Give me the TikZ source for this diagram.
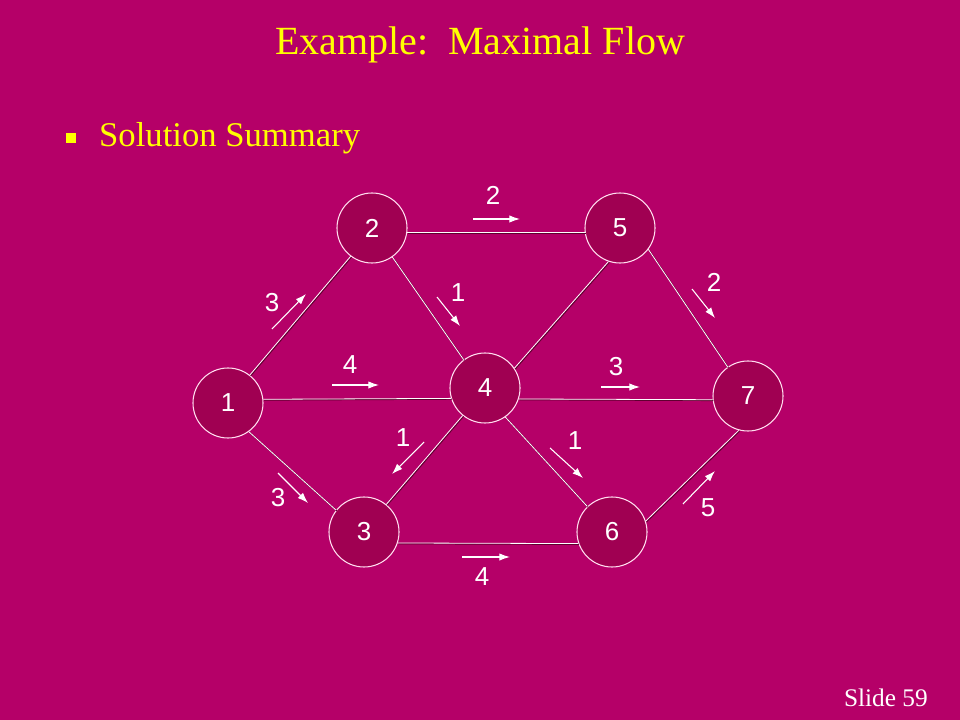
\documentclass[tikz,border=0pt]{standalone}
\usepackage{fontspec}
\setmainfont{Liberation Serif}
\newfontfamily\numfont{Liberation Sans}
\usetikzlibrary{arrows.meta}
\usetikzlibrary{positioning}

\definecolor{slidebg}{RGB}{181,0,104}
\definecolor{nodefill}{RGB}{160,0,82}
\definecolor{slideyellow}{RGB}{255,255,0}
\definecolor{shadowcol}{RGB}{95,0,48}
\definecolor{rimcol}{RGB}{255,220,238}

\begin{document}
\begin{tikzpicture}[x=0.75pt,y=-0.75pt]
	\tikzset{vertex/.style = {shape=circle,draw=rimcol,fill=nodefill,
			line width=0.8pt,minimum size=52.5pt,inner sep=0pt,
			text=white,font=\numfont\fontsize{19.5}{19.5}\selectfont}}
	\tikzset{edge/.style = {draw=white,line width=0.6pt,
			preaction={draw=shadowcol,line width=0.8pt,
				transform canvas={shift={(0.6pt,-0.6pt)}}}}}
	\tikzset{flow/.style = {-{Latex[length=8pt,width=5.5pt]},draw=white,
			line width=0.8pt}}
	\tikzset{flowlab/.style = {text=white,inner sep=0pt,
			font=\numfont\fontsize{19.5}{19.5}\selectfont}}

	% background
	\fill[slidebg] (0,0) rectangle (960,720);
	\useasboundingbox (0,0) rectangle (960,720);

	% title and bullet
	\node[text=slideyellow,inner sep=0pt,font=\fontsize{30}{30}\selectfont]
		(title) at (480,45) {Example:\ \ Maximal Flow};
	\node[fill=slideyellow,minimum size=7.5pt,inner sep=0pt] (bul) at (71,138) {};
	\node[right=17pt of bul,text=slideyellow,inner sep=0pt,
		font=\fontsize{26}{26}\selectfont] (summary) {Solution Summary};
	\node[anchor=base east,text=white,inner sep=0pt,
		font=\fontsize{19}{19}\selectfont] (slideno) at (928,706) {Slide 59};

	% vertices
	\node[vertex] (v1) at (228,403) {1};
	\node[vertex] (v2) at (372,228) {2};
	\node[vertex] (v3) at (364,532) {3};
	\node[vertex] (v4) at (485,388) {4};
	\node[vertex] (v5) at (620,228) {5};
	\node[vertex] (v6) at (612,532) {6};
	\node[vertex] (v7) at (748,396) {7};

	%edges
	\draw[edge] (v1.52) -- (v2.233);
	\draw[edge] (v1.-54) -- (v3.142);
	\draw[edge] (v1.6) -- (v4.197);
	\draw[edge] (v2.-7) -- (v5.187);
	\draw[edge] (v2.-55) -- (v4.127);
	\draw[edge] (v3.51) -- (v4.231);
	\draw[edge] (v3.-18) -- (v6.199);
	\draw[edge] (v4.34) -- (v5.251);
	\draw[edge] (v4.-18) -- (v7.186);
	\draw[edge] (v4.-55) -- (v6.134);
	\draw[edge] (v5.-37) -- (v7.125);
	\draw[edge] (v6.18) -- (v7.255);

	% flows
	\draw[flow] (272,329) -- (306,294);
	\node[flowlab] (f12) at (272,303) {3};
	\draw[flow] (278,473) -- (308,503);
	\node[flowlab] (f13) at (278,498) {3};
	\draw[flow] (332,385) -- (379,385);
	\node[flowlab] (f14) at (350,365) {4};
	\draw[flow] (473,219) -- (520,219);
	\node[flowlab] (f25) at (493,195) {2};
	\draw[flow] (437,297) -- (460,326);
	\node[flowlab] (f24) at (458,293) {1};
	\draw[flow] (424,442) -- (392,474);
	\node[flowlab] (f34) at (403,438) {1};
	\draw[flow] (462,557) -- (510,557);
	\node[flowlab] (f36) at (482,577) {4};
	\draw[flow] (601,387) -- (640,387);
	\node[flowlab] (f47) at (616,367) {3};
	\draw[flow] (550,448) -- (583,478);
	\node[flowlab] (f46) at (575,441) {1};
	\draw[flow] (692,289) -- (715,318);
	\node[flowlab] (f57) at (714,282) {2};
	\draw[flow] (683,504) -- (715,471);
	\node[flowlab] (f67) at (708,508) {5};

\end{tikzpicture}
\end{document}
